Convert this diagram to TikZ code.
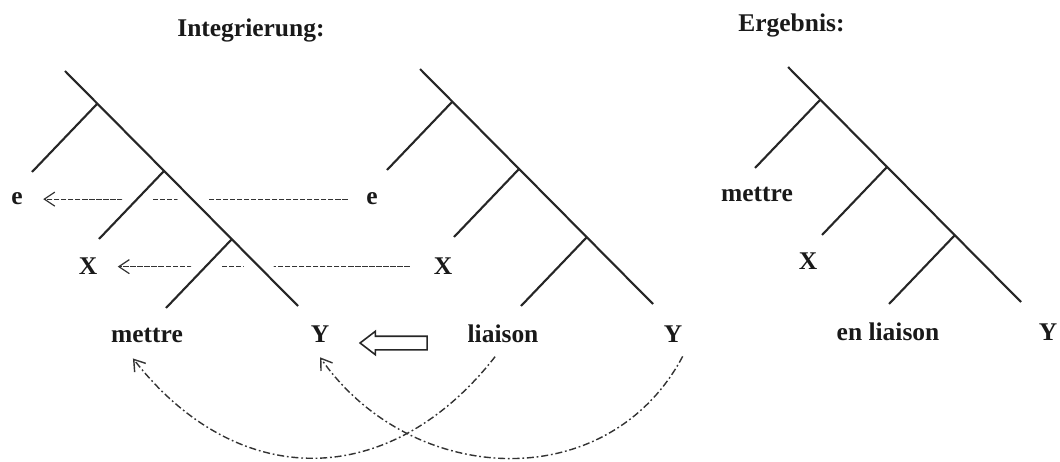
\documentclass[tikz,border=0pt]{standalone}
\usepackage{fontspec}
\setmainfont{Liberation Serif}
\usepackage{tikz}
\usetikzlibrary{positioning, arrows.meta, backgrounds, shapes.arrows}

\tikzset{
  baum/.pic={
    \draw[ast] (0,0) coordinate (-top) -- (233,235) coordinate (-end);
    \draw[ast] (32,33) -- (-33,101) coordinate (-b1);
    \draw[ast] (99,100) -- (34,168) coordinate (-b2);
    \draw[ast] (167,168) -- (101,237) coordinate (-b3);
  }
}

\begin{document}
\begin{tikzpicture}[
  x=0.02cm, y=-0.02cm,
  font=\bfseries\fontsize{14.5}{17}\selectfont,
  ast/.style={draw=black!85, line width=1.2pt},
  wort/.style={anchor=base, inner sep=2pt, text=black!90},
  titel/.style={anchor=base west, inner sep=0pt, text=black!90},
  zug/.style={-{Straight Barb[length=6pt, width=8pt]}, draw=black!80, line width=0.7pt, dash pattern=on 3pt off 1pt},
  bogen/.style={-{Straight Barb[length=6pt, width=8pt]}, draw=black!80, line width=0.8pt, dash pattern=on 4pt off 1.6pt on 1pt off 1.6pt},
  hohl/.style={single arrow, draw=black!85, line width=0.9pt, shape border rotate=180, minimum height=1.34cm, single arrow head extend=0.1cm, single arrow tip angle=75, inner sep=0.12cm}
]
\useasboundingbox (0,0) rectangle (1060,462);
% --- Baeume ---
\pic (a) at (65,71) {baum};
\pic (b) at (420,69) {baum};
\pic (c) at (788,67) {baum};
\node[titel] (integ) at (177,37) {Integrierung:};
\node[titel] (ergeb) at (738,32) {Ergebnis:};
% --- Integrierung: linker Baum ---
\node[wort] (e1) at ([shift={(-15,33)}]a-b1) {e};
\node[wort] (x1) at ([shift={(-11,36)}]a-b2) {X};
\node[wort] (mettre1) at ([shift={(-19,34)}]a-b3) {mettre};
\node[wort] (y1) at ([shift={(22,36)}]a-end) {Y};
% --- Integrierung: rechter Baum ---
\node[wort] (e2) at ([shift={(-15,35)}]b-b1) {e};
\node[wort] (x2) at ([shift={(-11,38)}]b-b2) {X};
\node[wort] (liaison) at ([shift={(-18,36)}]b-b3) {liaison};
\node[wort] (y2) at ([shift={(20,38)}]b-end) {Y};
\node[hohl] (pfeil) at (398,343) {};
% --- Ergebnis ---
\node[wort] (mettre3) at ([shift={(2,34)}]c-b1) {mettre};
\node[wort] (x3) at ([shift={(-14,35)}]c-b2) {X};
\node[wort] (enliaison) at ([shift={(-1,36)}]c-b3) {en liaison};
\node[wort] (y3) at ([shift={(27,38)}]c-end) {Y};
% --- Boegen ---
\draw[bogen] ([xshift=-4.5pt, yshift=-6pt]liaison.south) to[out=-128, in=-52, looseness=1.2] ([xshift=-8pt, yshift=-7pt]mettre1.south);
\draw[bogen] ([xshift=5.5pt, yshift=-6pt]y2.south) to[out=-118, in=-55, looseness=1.12] ([yshift=-6.5pt]y1.south);
% --- Uebertragung e, X (unterbrochen am Baum) ---
\begin{pgfonlayer}{background}
  \draw[zug, shorten <=8.5pt, shorten >=9.5pt] (e2.west) -- (e1.east);
  \draw[zug, shorten <=11.5pt, shorten >=9.5pt] (x2.west) -- (x1.east);
  \pic[ast/.style={draw=white, line width=12pt}] at (65,71) {baum};
\end{pgfonlayer}
\end{tikzpicture}
\end{document}
